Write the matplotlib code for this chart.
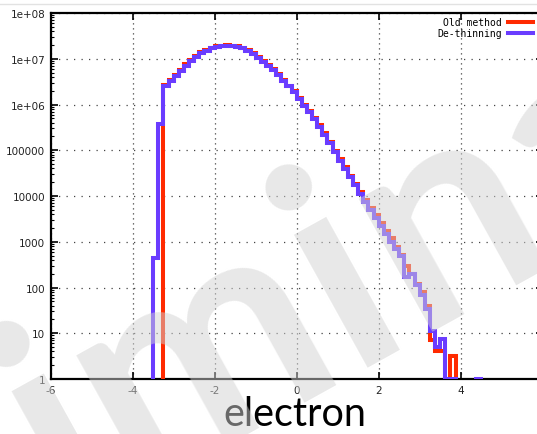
import numpy as np
import matplotlib
matplotlib.use("Agg")
import matplotlib.pyplot as plt
from matplotlib.lines import Line2D

plt.rcParams['axes.unicode_minus'] = False

# bin width of the histograms (log10 energy)
bin_width = 0.125

# De-thinning histogram, bins start at -3.5
dethin_start = -3.5
dethin_counts = [
    450, 3.8e5, 2.6e6, 3.3e6, 4.2e6, 5.5e6, 7.1e6, 8.9e6,
    1.12e7, 1.32e7, 1.51e7, 1.70e7, 1.80e7, 1.87e7, 1.90e7, 1.90e7,
    1.84e7, 1.70e7, 1.48e7, 1.26e7, 1.05e7, 8.7e6, 7.1e6, 5.6e6,
    4.4e6, 3.3e6, 2.5e6, 1.86e6, 1.35e6, 9.5e5, 6.8e5, 4.8e5,
    3.3e5, 2.2e5, 1.41e5, 9.1e4, 5.9e4, 3.9e4, 2.6e4, 1.7e4,
    1.12e4, 7.4e3, 4.9e3, 3.3e3, 2.2e3, 1.5e3, 1.0e3, 690,
    490, 170, 195, 112, 69, 34, 11, 4.9,
    7.4, 1, 1, 0, 0, 0, 0, 1,
]

# Old method histogram, bins start at -3.25
old_start = -3.25
old_counts = [
    2.7e6, 3.5e6, 4.5e6, 5.8e6, 7.5e6, 9.4e6,
    1.17e7, 1.38e7, 1.57e7, 1.76e7, 1.86e7, 1.92e7, 1.95e7, 1.94e7,
    1.88e7, 1.75e7, 1.53e7, 1.31e7, 1.10e7, 9.1e6, 7.4e6, 5.9e6,
    4.6e6, 3.5e6, 2.6e6, 1.95e6, 1.42e6, 1.0e6, 7.2e5, 5.1e5,
    3.5e5, 2.35e5, 1.5e5, 9.7e4, 6.3e4, 4.2e4, 2.8e4, 1.85e4,
    1.25e4, 8.3e3, 5.6e3, 3.8e3, 2.6e3, 1.75e3, 1.2e3, 760,
    520, 290, 200, 120, 78, 40, 7, 4.2,
    4.2, 1, 3.2,
]

series_labels = ["Old method", "De-thinning"]
series_colors = ["#ff2a00", "#6a3cff"]

yticks = [1, 10, 100, 1000, 1e4, 1e5, 1e6, 1e7, 1e8]
ytick_labels = ["1", "10", "100", "1000", "10000", "100000", "1e+06", "1e+07", "1e+08"]
xticks = [-6, -4, -2, 0, 2, 4]


def histeps(start, counts):
    # gnuplot-like histogram steps; empty bins break the line
    vals = np.array(counts, dtype=float)
    vals[vals <= 0] = np.nan
    edges = start + bin_width * np.arange(len(vals) + 1)
    xs = np.concatenate([[edges[0]], np.repeat(edges, 2)[1:-1], [edges[-1]]])
    ys = np.concatenate([[1.0], np.repeat(vals, 2), [1.0]])
    return xs, ys


fig = plt.figure(figsize=(5.37, 4.35), dpi=100)
ax = fig.add_axes([0.0944, 0.1264, 0.9162, 0.8414])

for (start, counts), lab, col in zip([(old_start, old_counts), (dethin_start, dethin_counts)],
                                     series_labels, series_colors):
    xs, ys = histeps(start, counts)
    ax.plot(xs, ys, color=col, lw=2.9, solid_joinstyle='miter', label=lab, zorder=3)

ax.set_yscale('log')
ax.set_xlim(-6, 6)
ax.set_ylim(1, 1e8)
ax.set_yticks(yticks, ytick_labels)
ax.set_xticks(xticks)
ax.tick_params(which='major', direction='in', length=5, width=1.2, labelsize=7.5,
               top=True, right=True, pad=4, labelcolor='#222222')
ax.tick_params(which='minor', direction='in', length=2.5, width=0.8, right=True)
ax.tick_params(axis='x', which='minor', bottom=False, top=False)
ax.yaxis.grid(True, which='major', color='#444444', linestyle=(0, (1, 5)), lw=0.9)
ax.xaxis.grid(True, which='major', color='#444444', linestyle=(0, (1, 3)), lw=0.9)
for s in ax.spines.values():
    s.set_linewidth(1.6)

leg = ax.legend(loc='upper right', bbox_to_anchor=(0.992, 1.005), frameon=False,
                prop={'family': 'DejaVu Sans Mono', 'size': 7},
                handlelength=2.6, handletextpad=0.6, markerfirst=False,
                labelspacing=0.15, borderaxespad=0.2)

# thin grey line along the top of the picture
fig.add_artist(Line2D([0, 1], [0.988, 0.988], transform=fig.transFigure,
                      color='#e2e2e2', lw=1.0))

fig.text(0.549, 0.02, "electron", family='Lato', fontsize=28.5, ha='center',
         va='baseline', color='black', zorder=2)

# watermark across everything
fig.text(0.495, 0.056, "Preliminary", family='Lato', weight='bold', fontsize=213,
         rotation=29, rotation_mode='anchor', ha='center', va='baseline',
         color='#d2d2d2', alpha=0.5, zorder=10)

fig.savefig("out.png", dpi=100)
